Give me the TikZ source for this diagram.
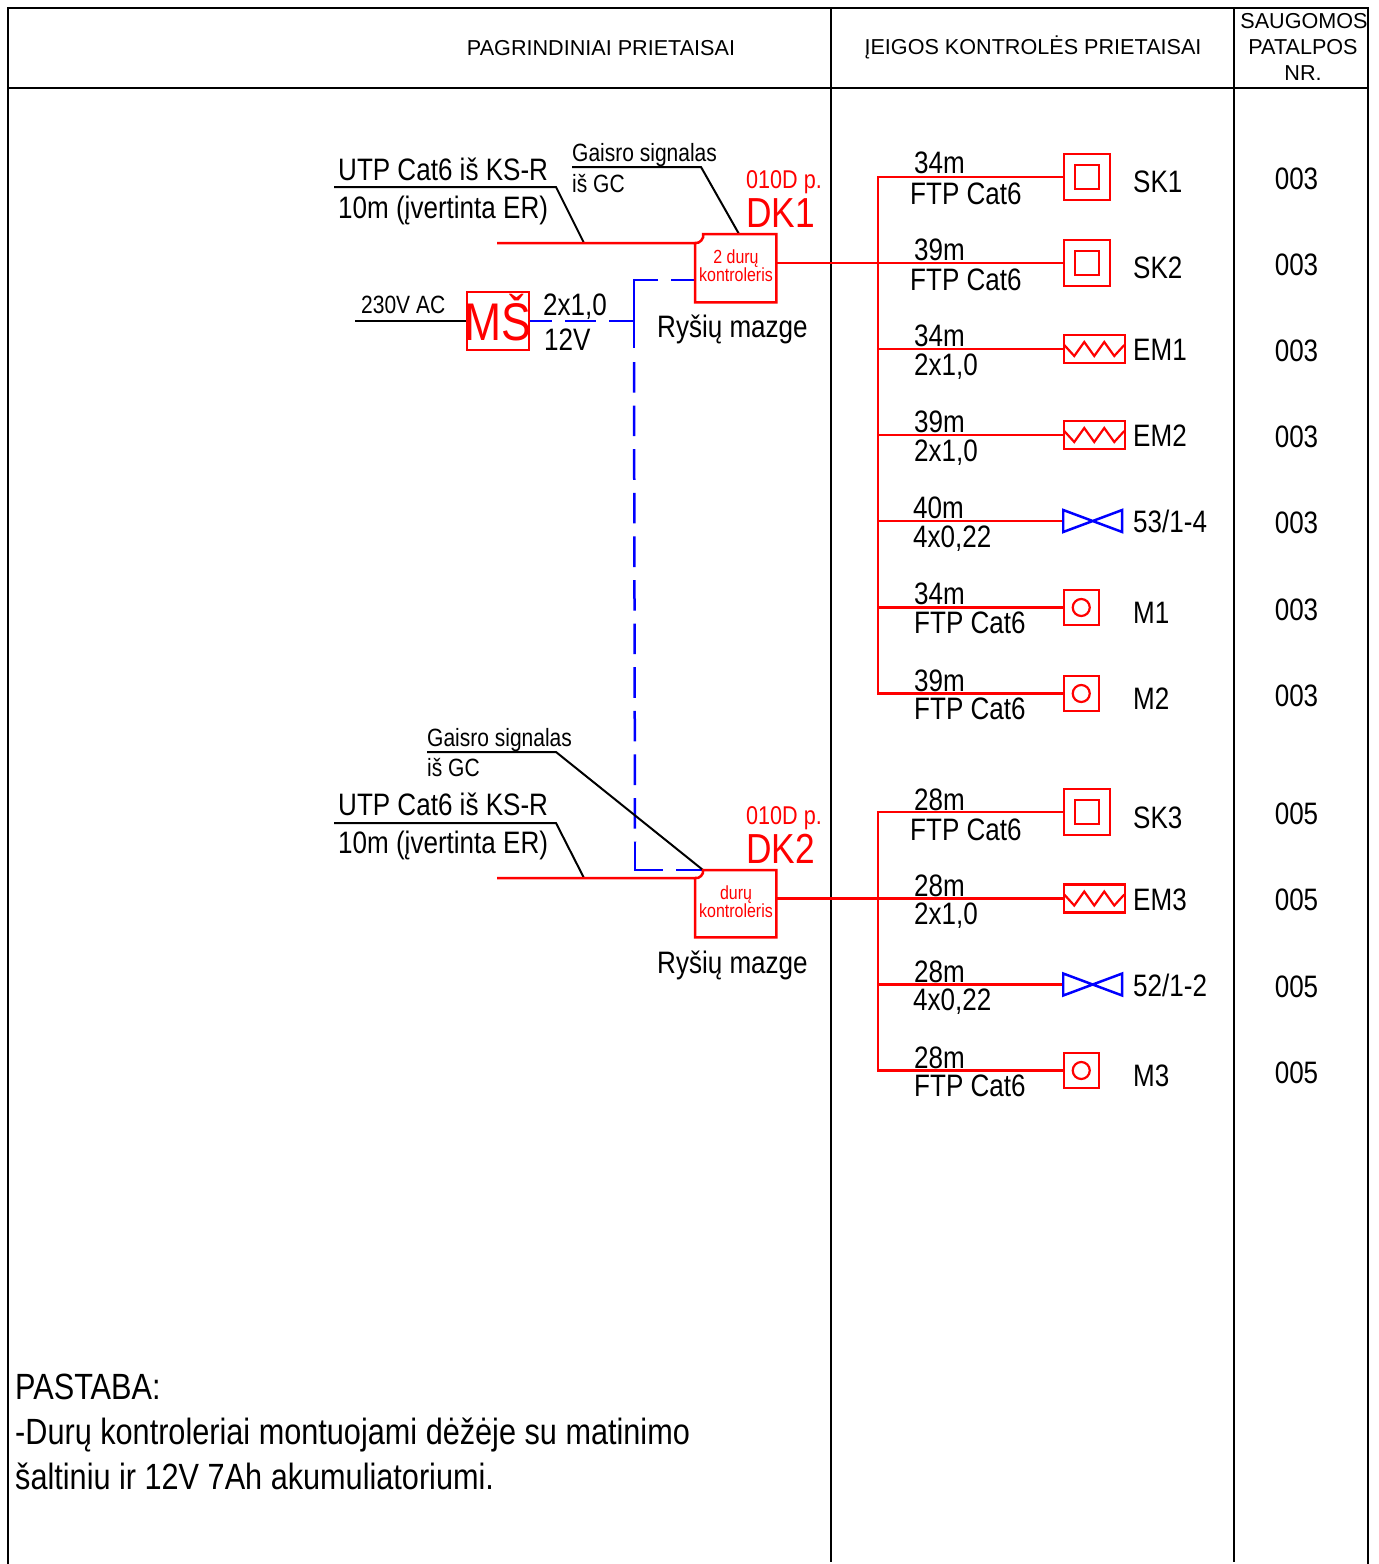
\documentclass[tikz,border=0pt]{standalone}
\usepackage{fontspec}
\setmainfont{Liberation Sans}
\newfontfamily\narrowfont[FakeStretch=0.84]{Liberation Sans}
\tikzset{
	blackln/.style={line width=2pt,black},
	redln/.style={line width=2.5pt,red},
	blueln/.style={line width=2.5pt,blue},
	txt/.style={anchor=base west,inner sep=0pt,font=\fontsize{31}{33}\selectfont\narrowfont},
	smalltxt/.style={txt,font=\fontsize{25}{27}\selectfont\narrowfont},
	headtxt/.style={anchor=base,inner sep=0pt,font=\fontsize{21.6}{23}\selectfont},
	redtxt/.style={anchor=base,inner sep=0pt,red,font=\fontsize{19}{20}\selectfont\narrowfont},
	roomtxt/.style={anchor=base,inner sep=0pt,font=\fontsize{31}{33}\selectfont\narrowfont},
	notetxt/.style={txt,font=\fontsize{36.5}{38}\selectfont\narrowfont},
	skbox/.style={draw=red,line width=2.5pt,anchor=west,inner sep=0pt,minimum width=46pt,minimum height=46pt,
		path picture={\draw[red,line width=2.2pt] (path picture bounding box.center) +(-12pt,-12pt) rectangle +(12pt,12pt);}},
	embox/.style={draw=red,line width=2.5pt,anchor=west,inner sep=0pt,minimum width=61pt,minimum height=28pt,
		path picture={\draw[red,line width=2.2pt] (path picture bounding box.center) +(-30pt,4pt) -- +(-20pt,-7pt) -- +(-10pt,7pt) -- +(0pt,-7pt) -- +(10pt,7pt) -- +(20pt,-7pt) -- +(30pt,4pt);}},
	valve/.style={anchor=west,inner sep=0pt,minimum width=62pt,minimum height=26pt,
		path picture={\draw[blue,line width=2.5pt] (path picture bounding box.center) +(-30pt,-11pt) -- +(29pt,11pt) -- +(29pt,-11pt) -- +(-30pt,11pt) -- cycle;}},
	mbox/.style={draw=red,line width=2.5pt,anchor=west,inner sep=0pt,minimum width=35pt,minimum height=35pt,
		path picture={\draw[red,line width=2.2pt] (path picture bounding box.center) circle (8.5pt);}},
	dkbox/.style={inner sep=0pt,anchor=north west,minimum width=81pt,minimum height=68pt}
}
\begin{document}
\begin{tikzpicture}[x=1pt,y=-1pt]
	\useasboundingbox (0,0) rectangle (1379,1564);
	% frame
	\coordinate (tl) at (8,8);
	\coordinate (tr) at (1368,8);
	\coordinate (bl) at (8,1564);
	\coordinate (br) at (1368,1564);
	\draw[blackln] (bl) -- (tl) -- (tr) -- (br);
	\draw[blackln] (8,88) -- (1368,88);
	\draw[blackln] (831,8) -- (831,1562);
	\draw[blackln] (1234,8) -- (1234,1562);
	\node[headtxt] (headmain) at (601,55) {PAGRINDINIAI PRIETAISAI};
	\node[headtxt] (headin) at (1033,54) {ĮEIGOS KONTROLĖS PRIETAISAI};
	\node[headtxt] (headroom1) at (1304,28) {SAUGOMOS};
	\node[headtxt] (headroom2) at (1303,54) {PATALPOS};
	\node[headtxt] (headroom3) at (1303,80) {NR.};

	% controllers
	\node[dkbox] (dk1) at (695,234) {};
	\node[dkbox,minimum height=67pt] (dk2) at (695,870) {};
	\node[redtxt] (dk1a) at (736,263) {2 durų};
	\node[redtxt] (dk1b) at (736,281) {kontroleris};
	\node[redtxt] (dk2a) at (736,899) {durų};
	\node[redtxt] (dk2b) at (736,917) {kontroleris};
	\node[txt,red,font=\fontsize{25.7}{28}\selectfont\narrowfont] (room1) at (746,188) {010D p.};
	\node[txt,red,font=\fontsize{42}{46}\selectfont\narrowfont] (name1) at (746,227) {DK1};
	\node[txt,red,font=\fontsize{25.7}{28}\selectfont\narrowfont] (room2) at (746,824) {010D p.};
	\node[txt,red,font=\fontsize{42}{46}\selectfont\narrowfont] (name2) at (746,863) {DK2};
	\node[txt] (link1) at (657,337) {Ryšių mazge};
	\node[txt] (link2) at (657,973) {Ryšių mazge};

	% power supply
	\node[draw=red,line width=2.5pt,inner sep=0pt,minimum width=62pt,minimum height=58pt] (ms) at (498,321) {};
	\node[anchor=base,inner sep=0pt,red,font=\fontsize{53}{60}\selectfont\narrowfont] (mstxt) at (498,340) {MŠ};
	\node[smalltxt] (ac) at (361,313) {230V AC};
	\node[txt] (cab) at (543,315) {2x1,0};
	\node[txt] (volt) at (544,350) {12V};

	% incoming cables
	\node[txt] (utp1) at (338,180) {UTP Cat6 iš KS-R};
	\node[txt] (len1) at (338,218) {10m (įvertinta ER)};
	\node[smalltxt] (fire1) at (572,161) {Gaisro signalas};
	\node[smalltxt] (gc1) at (572,192) {iš GC};
	\node[txt] (utp2) at (338,815) {UTP Cat6 iš KS-R};
	\node[txt] (len2) at (338,853) {10m (įvertinta ER)};
	\node[smalltxt] (fire2) at (427,746) {Gaisro signalas};
	\node[smalltxt] (gc2) at (427,776) {iš GC};

	% left side lines
	\coordinate (acs) at (355,321);
	\coordinate (utp1s) at (334,187);
	\coordinate (utp1k) at (556,187);
	\coordinate (red1s) at (497,243);
	\coordinate (red1k) at (584,243);
	\coordinate (fire1s) at (572,167);
	\coordinate (fire1k) at (701,167);
	\coordinate (fire1e) at (739,234);
	\coordinate (utp2s) at (334,823);
	\coordinate (utp2k) at (556,823);
	\coordinate (red2s) at (497,878);
	\coordinate (red2k) at (584,878);
	\coordinate (fire2s) at (427,752);
	\coordinate (fire2k) at (556,752);
	\coordinate (fire2e) at (703,870);
	\coordinate (bluet) at (634,280);
	\coordinate (bluem) at (634,321);
	\coordinate (bluea) at (634,348);
	\coordinate (blueb) at (634,362);
	\coordinate (bluec) at (635,842);
	\coordinate (blued) at (635,870);
	\draw[blueln,dash pattern=on 24pt off 13pt on 200pt] (dk1.west |- bluet) -- (bluet) -- (bluea);
	\draw[blueln,dash pattern=on 31pt off 13pt,dash phase=9pt] (ms.east) -- (bluem);
	\draw[blueln,dash pattern=on 30.6pt off 13pt] (blueb) -- (bluec);
	\draw[blueln,dash pattern=on 56pt off 13pt] (bluec) -- (blued) -- (fire2e);
	\draw[blackln] (acs) -- (ms.west);
	\draw[blackln] (utp1s) -- (utp1k) -- (red1k);
	\draw[blackln] (fire1s) -- (fire1k) -- (fire1e);
	\draw[blackln] (utp2s) -- (utp2k) -- (red2k);
	\draw[blackln] (fire2s) -- (fire2k) -- (fire2e);
	\draw[redln] (red1s) -- (695,243) to[bend right=60] (703,234) -- (dk1.north east) -- (dk1.south east) -- (dk1.south west) -- (695,243);
	\draw[redln] (red2s) -- (695,878) to[bend right=60] (703,870) -- (dk2.north east) -- (dk2.south east) -- (dk2.south west) -- (695,878);

	% door devices of DK1
	\node[skbox] (sk1) at (1062.5,177) {};
	\node[skbox] (sk2) at (1062.5,263) {};
	\node[embox] (em1) at (1062.5,349) {};
	\node[embox] (em2) at (1062.5,435) {};
	\node[valve] (v1) at (1062,521) {};
	\node[mbox] (m1) at (1062.5,607.5) {};
	\node[mbox] (m2) at (1062.5,693.5) {};
	\coordinate (bus1t) at (878,177);
	\coordinate (bus1b) at (878,693.5);
	\draw[redln] (sk1.west) -- (bus1t) -- (bus1b) -- (m2.west);
	\draw[redln] (dk1.east |- sk2.west) -- (sk2.west);
	\draw[redln] (em1.west -| bus1t) -- (em1.west);
	\draw[redln] (em2.west -| bus1t) -- (em2.west);
	\draw[redln] (v1.west -| bus1t) -- (v1.west);
	\draw[redln] (m1.west -| bus1t) -- (m1.west);

	% door devices of DK2
	\node[skbox] (sk3) at (1062.5,812) {};
	\node[embox] (em3) at (1062.5,898.5) {};
	\node[valve] (v2) at (1062,984.5) {};
	\node[mbox] (m3) at (1062.5,1070.5) {};
	\coordinate (bus2t) at (878,812);
	\coordinate (bus2b) at (878,1070.5);
	\draw[redln] (sk3.west) -- (bus2t) -- (bus2b) -- (m3.west);
	\draw[redln] (dk2.east |- em3.west) -- (em3.west);
	\draw[redln] (v2.west -| bus2t) -- (v2.west);

	% cable labels
	\node[txt] (l1a) at (914,173) {34m};
	\node[txt] (l1b) at (910,204) {FTP Cat6};
	\node[txt] (l2a) at (914,260) {39m};
	\node[txt] (l2b) at (910,290) {FTP Cat6};
	\node[txt] (l3a) at (914,346) {34m};
	\node[txt] (l3b) at (914,375) {2x1,0};
	\node[txt] (l4a) at (914,432) {39m};
	\node[txt] (l4b) at (914,461) {2x1,0};
	\node[txt] (l5a) at (913,518) {40m};
	\node[txt] (l5b) at (913,547) {4x0,22};
	\node[txt] (l6a) at (914,604) {34m};
	\node[txt] (l6b) at (914,633) {FTP Cat6};
	\node[txt] (l7a) at (914,691) {39m};
	\node[txt] (l7b) at (914,719) {FTP Cat6};
	\node[txt] (l8a) at (914,810) {28m};
	\node[txt] (l8b) at (910,840) {FTP Cat6};
	\node[txt] (l9a) at (914,896) {28m};
	\node[txt] (l9b) at (914,924) {2x1,0};
	\node[txt] (l10a) at (914,982) {28m};
	\node[txt] (l10b) at (913,1010) {4x0,22};
	\node[txt] (l11a) at (914,1068) {28m};
	\node[txt] (l11b) at (914,1096) {FTP Cat6};

	% device names
	\node[txt] (n1) at (1133,192) {SK1};
	\node[txt] (n2) at (1133,278) {SK2};
	\node[txt] (n3) at (1133,360) {EM1};
	\node[txt] (n4) at (1133,446) {EM2};
	\node[txt] (n5) at (1133,532) {53/1-4};
	\node[txt] (n6) at (1133,623) {M1};
	\node[txt] (n7) at (1133,709) {M2};
	\node[txt] (n8) at (1133,828) {SK3};
	\node[txt] (n9) at (1133,910) {EM3};
	\node[txt] (n10) at (1133,996) {52/1-2};
	\node[txt] (n11) at (1133,1086) {M3};

	% room numbers
	\node[roomtxt] (r1) at (1296.5,189) {003};
	\node[roomtxt] (r2) at (1296.5,275) {003};
	\node[roomtxt] (r3) at (1296.5,361) {003};
	\node[roomtxt] (r4) at (1296.5,447) {003};
	\node[roomtxt] (r5) at (1296.5,533) {003};
	\node[roomtxt] (r6) at (1296.5,620) {003};
	\node[roomtxt] (r7) at (1296.5,706) {003};
	\node[roomtxt] (r8) at (1296.5,824) {005};
	\node[roomtxt] (r9) at (1296.5,910) {005};
	\node[roomtxt] (r10) at (1296.5,997) {005};
	\node[roomtxt] (r11) at (1296.5,1083) {005};

	% note
	\node[notetxt] (note1) at (15,1399) {PASTABA:};
	\node[notetxt] (note2) at (15,1444) {-Durų kontroleriai montuojami dėžėje su matinimo};
	\node[notetxt] (note3) at (15,1489) {šaltiniu ir 12V 7Ah akumuliatoriumi.};
\end{tikzpicture}
\end{document}
